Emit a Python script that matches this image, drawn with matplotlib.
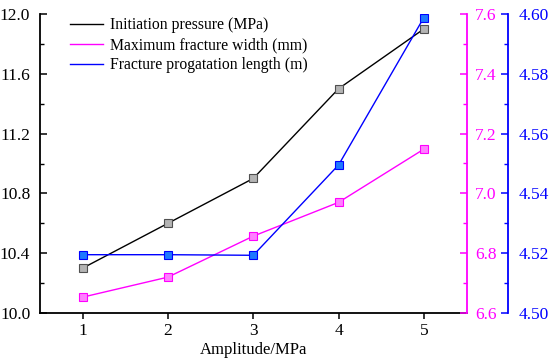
import matplotlib.pyplot as plt
from matplotlib.lines import Line2D
from matplotlib.ticker import MultipleLocator

plt.rcParams['font.family'] = ['Liberation Serif', 'DejaVu Serif']
plt.rcParams['font.size'] = 11

# data
amplitude = [1, 2, 3, 4, 5]
initiation_pressure = [10.3, 10.6, 10.9, 11.5, 11.9]
max_fracture_width = [6.653, 6.72, 6.857, 6.97, 7.148]
propagation_length = [4.5195, 4.5195, 4.5193, 4.5495, 4.5988]
labels = ['Initiation pressure (MPa)', 'Maximum fracture width (mm)',
          'Fracture progatation length (m)']

c_black, c_mag, c_blue = 'black', '#ff00ff', '#0000ff'

fig = plt.figure(figsize=(5.5, 3.6), dpi=100)
ax1 = fig.add_axes([40 / 550, 1 - 313 / 360, (466.5 - 40) / 550, (313 - 14) / 360])
ax2 = ax1.twinx()
ax3 = ax1.twinx()
ax3.spines['right'].set_position(('axes', (508 - 40) / (466.5 - 40)))

ax1.plot(amplitude, initiation_pressure, color=c_black, lw=1,
         marker='s', ms=6, mfc='#b4b4b4', mec='#505050', mew=0.8)
ax2.plot(amplitude, max_fracture_width, color=c_mag, lw=1,
         marker='s', ms=6, mfc='#ff80ff', mec=c_mag, mew=0.8)
ax3.plot(amplitude, propagation_length, color=c_blue, lw=1,
         marker='s', ms=6, mfc='#1e78ff', mec=c_blue, mew=0.8)

ax1.set_xlim(0.5, 5.5)
ax1.set_ylim(10.0, 12.0)
ax2.set_ylim(6.6, 7.6)
ax3.set_ylim(4.50, 4.60)

ax1.set_xticks(amplitude)
ax1.yaxis.set_major_locator(MultipleLocator(0.4))
ax1.yaxis.set_minor_locator(MultipleLocator(0.2))
ax1.yaxis.set_major_formatter(plt.FormatStrFormatter('%.1f'))
ax2.yaxis.set_major_locator(MultipleLocator(0.2))
ax2.yaxis.set_minor_locator(MultipleLocator(0.1))
ax2.yaxis.set_major_formatter(plt.FormatStrFormatter('%.1f'))
ax3.yaxis.set_major_locator(MultipleLocator(0.02))
ax3.yaxis.set_minor_locator(MultipleLocator(0.01))
ax3.yaxis.set_major_formatter(plt.FormatStrFormatter('%.2f'))

for ax in (ax1, ax2, ax3):
    ax.spines['top'].set_visible(False)
for ax in (ax2, ax3):
    ax.spines['left'].set_visible(False)
    ax.spines['bottom'].set_visible(False)
ax1.spines['right'].set_visible(False)
ax1.spines['left'].set_linewidth(1.3)
ax1.spines['bottom'].set_linewidth(1.3)

ax1.tick_params(axis='x', direction='out', length=4, width=1.1, labelsize=12.5, pad=3)
ax1.tick_params(axis='y', which='major', direction='in', length=5, width=1.1,
                labelsize=12.5, pad=7)
ax1.tick_params(axis='y', which='minor', direction='in', length=3, width=1)

ax2.spines['right'].set_color(c_mag)
ax2.spines['right'].set_linewidth(1.3)
ax2.tick_params(axis='y', which='both', direction='in', colors=c_mag, labelsize=12.5, pad=6)
ax2.tick_params(axis='y', which='major', length=5, width=1.1)
ax2.tick_params(axis='y', which='minor', length=3, width=1)

ax3.spines['right'].set_color(c_blue)
ax3.spines['right'].set_linewidth(1.3)
ax3.tick_params(axis='y', which='both', direction='in', colors=c_blue, labelsize=12.5, pad=8)
ax3.tick_params(axis='y', which='major', length=5, width=1.1)
ax3.tick_params(axis='y', which='minor', length=3, width=1)

ax1.set_xlabel('Amplitude/MPa', fontsize=12, labelpad=2)

handles = [Line2D([], [], color=c, lw=1) for c in (c_black, c_mag, c_blue)]
ax1.legend(handles, labels, loc='upper left', bbox_to_anchor=(0.056, 1.01),
           frameon=False, fontsize=11.3, handlelength=2.1, handletextpad=0.45,
           labelspacing=0.25, borderaxespad=0)

fig.savefig('out.png', dpi=100)
